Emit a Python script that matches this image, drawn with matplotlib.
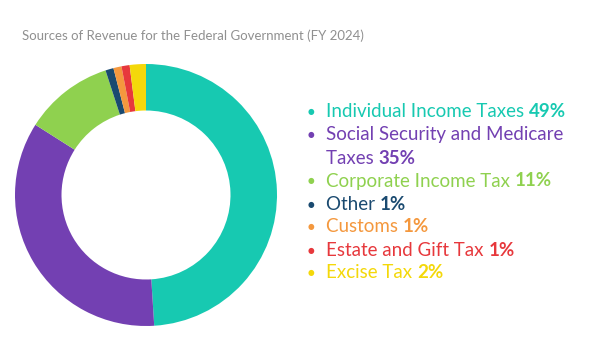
import matplotlib
matplotlib.use("Agg")
import matplotlib.pyplot as plt

TITLE = "Sources of Revenue for the Federal Government (FY 2024)"
LABELS = [
    "Individual Income Taxes",
    "Social Security and Medicare\nTaxes",
    "Corporate Income Tax",
    "Other",
    "Customs",
    "Estate and Gift Tax",
    "Excise Tax",
]
SHARES = [49, 35, 11, 1, 1, 1, 2]
COLORS = ["#17c9b1", "#7340b2", "#8fd14f", "#1a4a70", "#f4983e", "#e7383c", "#f4d80a"]

W, H = 611, 337
FONT = ["Lato", "DejaVu Sans"]


def main() -> None:
    fig = plt.figure(figsize=(W / 100, H / 100), dpi=100)
    fig.patch.set_facecolor("white")

    fig.text(22 / W, 1 - 36 / H, TITLE, fontsize=9.55, color="#909090",
             family=FONT, va="center", ha="left")

    # donut
    cx, cy, r = 146, 195, 131
    ax = fig.add_axes([(cx - r) / W, 1 - (cy + r) / H, 2 * r / W, 2 * r / H])
    ax.pie(SHARES, colors=COLORS, startangle=90, counterclock=False, radius=1.0,
           wedgeprops={"width": 0.355, "linewidth": 0})
    ax.set_xlim(-1, 1)
    ax.set_ylim(-1, 1)
    ax.axis("off")

    # legend with bold percentages
    x_bullet, x_text = 311 / W, 326 / W
    y = 112
    step = 23
    for label, share, color in zip(LABELS, SHARES, COLORS):
        lines = label.split("\n")
        for i, line in enumerate(lines):
            yy = 1 - y / H
            if i == 0:
                fig.text(x_bullet, yy, "\u25cf", fontsize=5.5, color=color,
                         family=["DejaVu Sans"], va="center", ha="center")
            t = fig.text(x_text, yy, line + " ", fontsize=13.5, color=color,
                         family=FONT, va="center", ha="left")
            if i == len(lines) - 1:
                plt.annotate(f"{share}%", xy=(1, 0), xycoords=t, fontsize=13.5,
                             color=color, family=FONT, fontweight="bold",
                             va="bottom", ha="left", annotation_clip=False)
            y += step

    fig.savefig("out.png", dpi=100, facecolor="white")
    plt.close(fig)


if __name__ == "__main__":
    main()
